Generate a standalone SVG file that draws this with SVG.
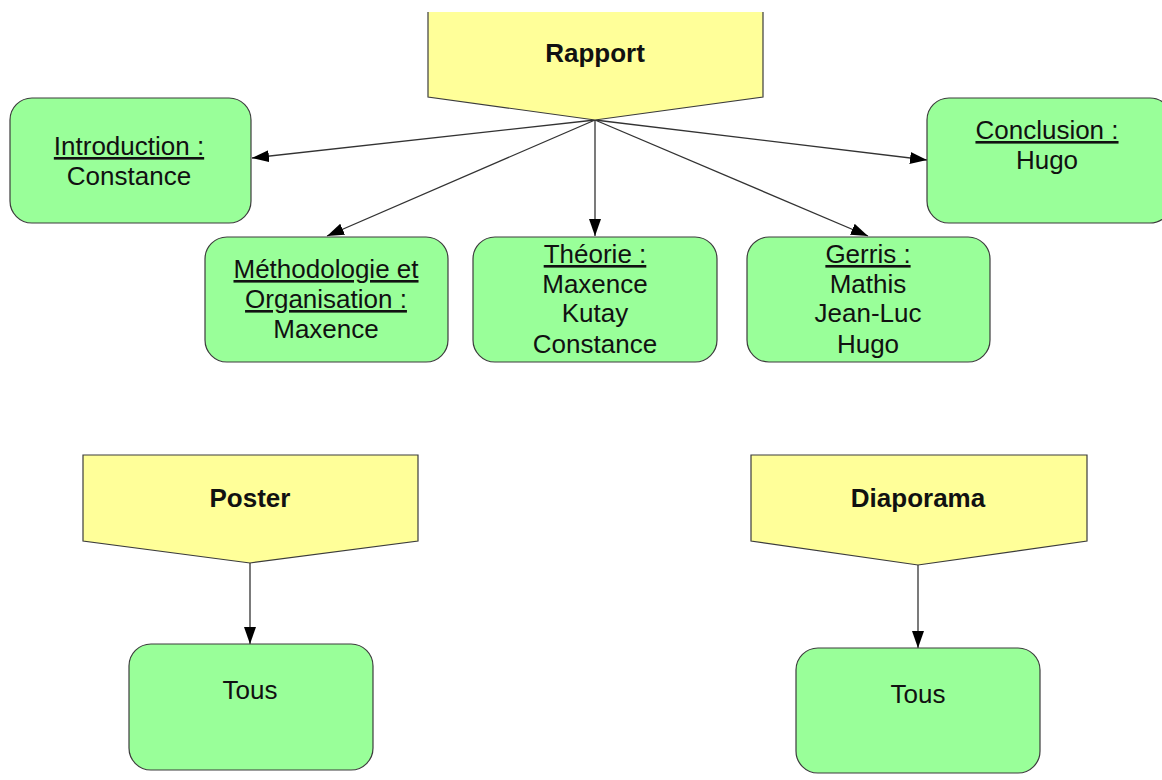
<svg xmlns="http://www.w3.org/2000/svg" width="1162" height="780" viewBox="0 0 1162 780">
<style>
.y{fill:#ffff99;stroke:#3c3c3c;stroke-width:1.2}
.g{fill:#99ff99;stroke:#3c3c3c;stroke-width:1.2}
.t{font-family:"Liberation Sans",Arial,sans-serif;font-size:26px;fill:#111;text-anchor:middle}
.b{font-family:"Liberation Sans",Arial,sans-serif;font-size:26px;font-weight:bold;fill:#111;text-anchor:middle}
.u{text-decoration:underline}
.c{stroke:#333;stroke-width:1.3;fill:none;marker-end:url(#ah)}
</style>
<defs>
<marker id="ah" viewBox="0 0 17 12" refX="17" refY="6" markerWidth="17" markerHeight="12" markerUnits="userSpaceOnUse" orient="auto">
<path d="M0,0 L17,6 L0,12 z" fill="#000"/>
</marker>
</defs>
<rect width="1162" height="780" fill="#fff"/>
<g id="connectors">
<line class="c" x1="595" y1="120" x2="252" y2="158"/>
<line class="c" x1="595" y1="120" x2="327" y2="236"/>
<line class="c" x1="595" y1="120" x2="595" y2="236"/>
<line class="c" x1="595" y1="120" x2="868" y2="236"/>
<line class="c" x1="595" y1="120" x2="927" y2="160"/>
<line class="c" x1="250" y1="563" x2="250" y2="644"/>
<line class="c" x1="918" y1="565" x2="918" y2="648"/>
</g>
<g id="rapport">
<path d="M428,12 L763,12 L763,97 L595,120 L428,97 Z" fill="#ffff99"/>
<path d="M428,12 L428,97 L595,120 L763,97 L763,12" fill="none" stroke="#3c3c3c" stroke-width="1.2"/>
<text class="b" x="595" y="62">Rapport</text>
</g>
<g id="introduction">
<rect class="g" x="10" y="98" width="241" height="125" rx="22"/>
<text class="t" x="129" y="155"><tspan class="u">Introduction :</tspan></text>
<text class="t" x="129" y="185">Constance</text>
</g>
<g id="conclusion">
<rect class="g" x="927" y="98" width="245" height="125" rx="22"/>
<text class="t" x="1047" y="139"><tspan class="u">Conclusion :</tspan></text>
<text class="t" x="1047" y="169">Hugo</text>
</g>
<g id="methodologie">
<rect class="g" x="205" y="237" width="243" height="125" rx="22"/>
<text class="t" x="326" y="278"><tspan class="u">Méthodologie et</tspan></text>
<text class="t" x="326" y="308"><tspan class="u">Organisation :</tspan></text>
<text class="t" x="326" y="338">Maxence</text>
</g>
<g id="theorie">
<rect class="g" x="473" y="237" width="244" height="125" rx="22"/>
<text class="t" x="595" y="263"><tspan class="u">Théorie :</tspan></text>
<text class="t" x="595" y="293">Maxence</text>
<text class="t" x="595" y="322">Kutay</text>
<text class="t" x="595" y="353">Constance</text>
</g>
<g id="gerris">
<rect class="g" x="747" y="237" width="243" height="125" rx="22"/>
<text class="t" x="868" y="263"><tspan class="u">Gerris :</tspan></text>
<text class="t" x="868" y="293">Mathis</text>
<text class="t" x="868" y="322">Jean-Luc</text>
<text class="t" x="868" y="353">Hugo</text>
</g>
<g id="poster">
<polygon class="y" points="83,455 418,455 418,541 250,563 83,541"/>
<text class="b" x="250" y="507">Poster</text>
</g>
<g id="tous-poster">
<rect class="g" x="129" y="644" width="244" height="126" rx="22"/>
<text class="t" x="250" y="699">Tous</text>
</g>
<g id="diaporama">
<polygon class="y" points="751,455 1087,455 1087,541 918,565 751,541"/>
<text class="b" x="918" y="507">Diaporama</text>
</g>
<g id="tous-diaporama">
<rect class="g" x="796" y="648" width="244" height="125" rx="22"/>
<text class="t" x="918" y="703">Tous</text>
</g>
</svg>
